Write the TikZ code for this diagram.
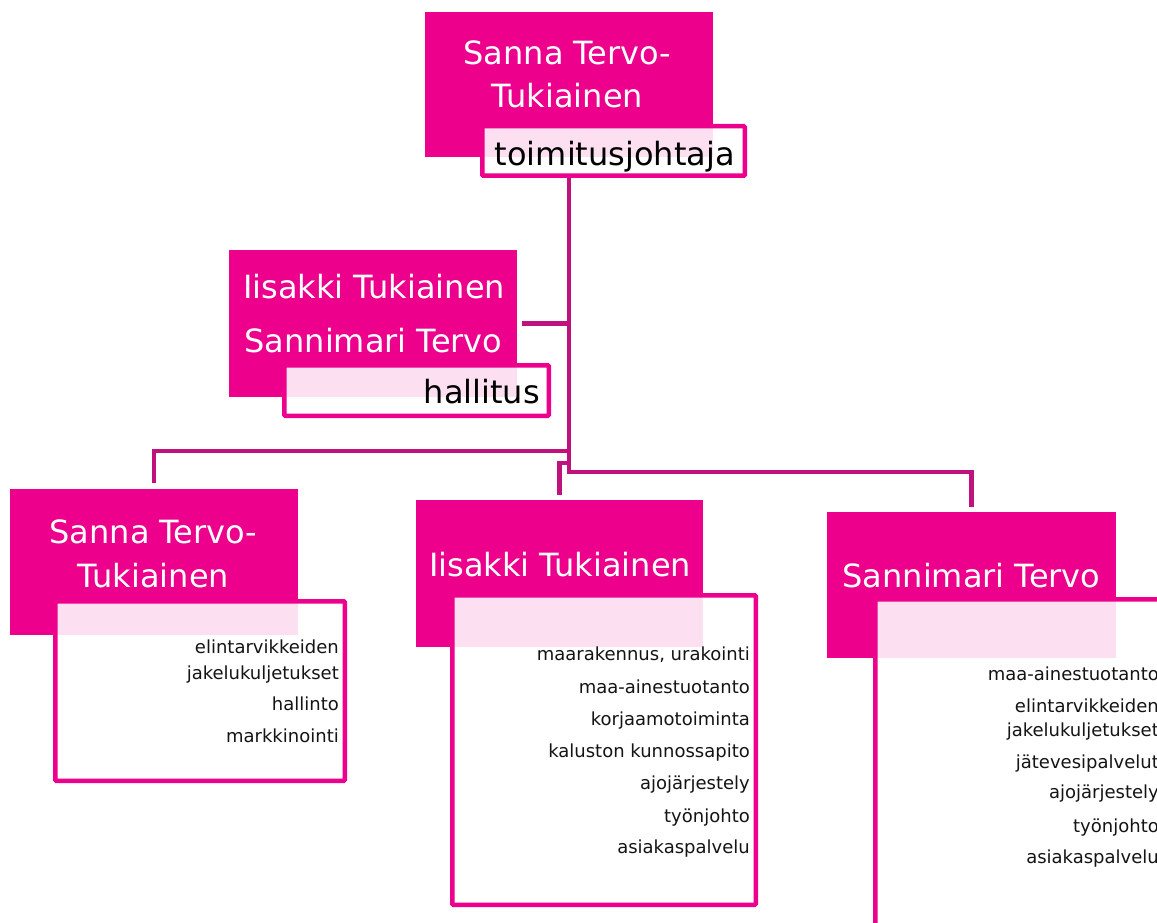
\documentclass[tikz,border=0pt]{standalone}
\usepackage{fontspec}
\setmainfont{DejaVu Sans}
\definecolor{mag}{RGB}{236,0,140}
\definecolor{conncol}{RGB}{192,18,124}
\definecolor{ink}{RGB}{20,20,20}
\tikzset{
  namebox/.style={fill=mag, draw=none, inner sep=0pt},
  labelbox/.style={draw=mag, line width=4.5pt, fill=white, fill opacity=0.88, inner sep=0pt, rounded corners=1pt},
  connline/.style={draw=conncol, line width=4.5pt},
  bigtxt/.style={font=\fontsize{32}{38}\selectfont, inner sep=0pt, anchor=base},
  nametxt/.style={bigtxt, text=white},
  roletxt/.style={bigtxt, text=black, anchor=base east},
  itemtxt/.style={font=\fontsize{18}{22}\selectfont, inner sep=0pt, anchor=base east, text=ink},
}
\begin{document}
\begin{tikzpicture}[x=1pt, y=-1pt]
\useasboundingbox (0,0) rectangle (1157,923);
\clip (0,0) rectangle (1157,923);
\fill[white] (0,0) rectangle (1157,923);

% name boxes
\node[namebox, minimum width=288pt, minimum height=145pt] (tb) at (569,84.5) {};
\node[namebox, minimum width=288pt, minimum height=147pt] (hb) at (373,323.5) {};
\node[namebox, minimum width=288pt, minimum height=146pt] (lb) at (154,562) {};
\node[namebox, minimum width=287pt, minimum height=147pt] (mb) at (559.5,573.5) {};
\node[namebox, minimum width=289pt, minimum height=146pt] (rb) at (971.5,585) {};

% label / detail boxes
\node[labelbox, minimum width=262.5pt, minimum height=49.5pt] (tl) at (613.5,151) {};
\node[labelbox, minimum width=264.5pt, minimum height=50.5pt] (hl) at (416.5,390.5) {};
\node[labelbox, minimum width=289.5pt, minimum height=179.5pt] (ld) at (200,691) {};
\node[labelbox, minimum width=303.5pt, minimum height=309.5pt] (md) at (604,750) {};
\node[labelbox, minimum width=312.5pt, minimum height=358.5pt] (rd) at (1031.5,778.5) {};

% connectors
\draw[connline, shorten >=5pt] (tb.south |- tl.south) -- (tb.south |- 0,472) -| (rb.north);
\draw[connline, shorten >=6pt] (tb.south |- 0,451) -| (lb.north);
\draw[connline, shorten >=5pt] (tb.south |- 0,463) -| (mb.north);
\draw[connline] ([xshift=5pt]hb.east) -- (hb.east -| tb.south);

% texts: top
\node[nametxt] (tbn1) at (567.5,65) {Sanna Tervo-};
\node[nametxt] (tbn2) at (567.5,108) {Tukiainen};
\node[roletxt] (tlr) at (735,165) {toimitusjohtaja};

% hallitus
\node[nametxt] (hbn1) at (374,298) {Iisakki Tukiainen};
\node[nametxt] (hbn2) at (373.5,352) {Sannimari Tervo};
\node[roletxt] (hlr) at (540,403) {hallitus};

% left
\node[nametxt] (lbn1) at (153.5,543) {Sanna Tervo-};
\node[nametxt] (lbn2) at (153.5,587) {Tukiainen};
\node[itemtxt] (l1a) at (339,653) {elintarvikkeiden};
\node[itemtxt] (l1b) at (339,679) {jakelukuljetukset};
\node[itemtxt] (l2) at (339,710) {hallinto};
\node[itemtxt] (l3) at (339,742) {markkinointi};

% middle
\node[nametxt] (mbn) at (560,576) {Iisakki Tukiainen};
\node[itemtxt] (m1) at (750,660) {maarakennus, urakointi};
\node[itemtxt] (m2) at (750,693) {maa-ainestuotanto};
\node[itemtxt] (m3) at (750,725) {korjaamotoiminta};
\node[itemtxt] (m4) at (750,757) {kaluston kunnossapito};
\node[itemtxt] (m5) at (750,789) {ajojärjestely};
\node[itemtxt] (m6) at (750,822) {työnjohto};
\node[itemtxt] (m7) at (750,853) {asiakaspalvelu};

% right
\node[nametxt] (rbn) at (971.5,587) {Sannimari Tervo};
\node[itemtxt] (r1) at (1159,680) {maa-ainestuotanto};
\node[itemtxt] (r2a) at (1159,712) {elintarvikkeiden};
\node[itemtxt] (r2b) at (1159,736) {jakelukuljetukset};
\node[itemtxt] (r3) at (1159,768) {jätevesipalvelut};
\node[itemtxt] (r4) at (1159,798) {ajojärjestely};
\node[itemtxt] (r5) at (1159,832) {työnjohto};
\node[itemtxt] (r6) at (1159,863) {asiakaspalvelu};
\end{tikzpicture}
\end{document}
